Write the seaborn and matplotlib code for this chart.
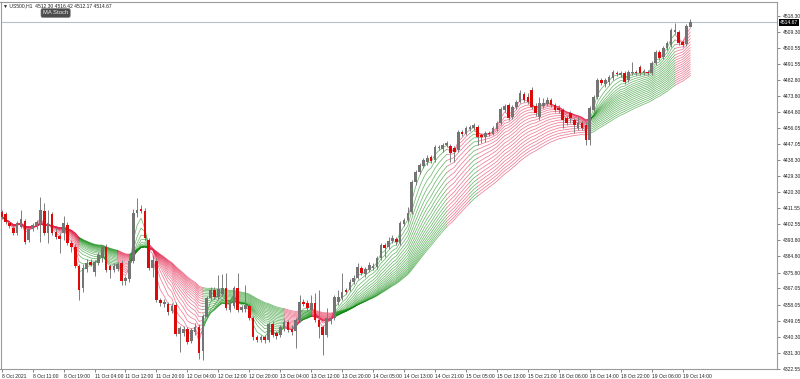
import numpy as np
import pandas as pd
import matplotlib
matplotlib.use("Agg")
import matplotlib.pyplot as plt
import seaborn as sns

# ---------------- data (US500, H1) ----------------
opens = [4409.5, 4408.3, 4403.4, 4400.6, 4397.8, 4401.1, 4404.5, 4393.9, 4400.0, 4401.7,
         4403.4, 4410.0, 4397.8, 4408.3, 4398.4, 4396.1, 4397.8, 4402.2, 4392.3, 4390.0,
         4379.5, 4367.3, 4377.8, 4381.7, 4376.2, 4381.2, 4383.9, 4390.0, 4379.5, 4377.3,
         4377.8, 4381.2, 4371.2, 4372.3, 4382.3, 4408.9, 4411.1, 4410.0, 4393.9, 4378.4,
         4382.3, 4360.7, 4358.4, 4358.4, 4354.6, 4357.9, 4341.8, 4342.4, 4344.6, 4337.9,
         4342.9, 4345.7, 4332.4, 4351.2, 4361.8, 4366.2, 4362.3, 4363.9, 4367.3, 4355.1,
         4357.3, 4367.3, 4355.1, 4355.7, 4357.3, 4350.7, 4340.1, 4338.5, 4340.1, 4338.5,
         4347.3, 4342.4, 4341.2, 4345.1, 4348.5, 4344.6, 4343.5, 4349.6, 4359.5, 4359.0,
         4355.1, 4359.0, 4349.6, 4345.7, 4341.2, 4349.0, 4350.7, 4359.5, 4361.8, 4366.2,
         4366.2, 4370.6, 4372.8, 4378.4, 4375.1, 4377.3, 4378.4, 4379.0, 4383.9, 4391.2,
         4390.0, 4393.4, 4394.5, 4392.3, 4402.8, 4405.0, 4409.4, 4426.1, 4431.6, 4435.0,
         4437.2, 4439.9, 4438.3, 4444.9, 4444.4, 4446.6, 4446.0, 4444.9, 4443.8, 4453.8,
         4452.7, 4455.5, 4456.0, 4456.6, 4452.1, 4451.0, 4453.2, 4452.7, 4455.5, 4458.8,
         4466.0, 4468.8, 4462.1, 4467.7, 4470.4, 4474.9, 4473.2, 4477.1, 4468.2, 4462.1,
         4468.2, 4469.3, 4471.6, 4468.8, 4467.1, 4466.0, 4461.6, 4464.3, 4460.5, 4456.0,
         4458.8, 4457.7, 4449.4, 4466.0, 4473.2, 4482.6, 4480.4, 4481.5, 4483.7, 4486.5,
         4485.4, 4486.5, 4482.6, 4486.5, 4487.1, 4489.8, 4486.5, 4487.1, 4486.5, 4492.1,
         4498.2, 4495.4, 4500.4, 4502.0, 4509.3, 4509.3, 4503.7, 4502.6, 4512.30]

highs = [4410.6, 4409.5, 4404.5, 4401.7, 4404.5, 4410.6, 4405.6, 4401.1, 4403.4, 4405.0,
         4417.8, 4414.4, 4410.6, 4409.5, 4400.6, 4397.8, 4407.2, 4403.9, 4393.9, 4391.7,
         4380.6, 4380.6, 4383.4, 4383.4, 4382.8, 4387.3, 4391.2, 4391.7, 4380.6, 4381.2,
         4381.7, 4382.8, 4373.9, 4385.6, 4411.1, 4417.2, 4413.3, 4411.7, 4395.0, 4385.6,
         4383.9, 4361.8, 4361.2, 4359.5, 4359.0, 4359.5, 4346.2, 4346.2, 4345.7, 4345.1,
         4347.9, 4347.3, 4352.9, 4362.9, 4367.9, 4367.9, 4374.5, 4375.1, 4375.6, 4360.1,
         4368.4, 4375.6, 4357.9, 4369.0, 4358.4, 4351.8, 4341.2, 4341.2, 4341.2, 4348.5,
         4349.0, 4343.5, 4346.8, 4350.1, 4349.6, 4346.8, 4350.7, 4363.4, 4361.2, 4360.7,
         4363.4, 4364.5, 4366.2, 4346.8, 4356.2, 4351.8, 4363.4, 4366.2, 4375.6, 4367.3,
         4372.3, 4374.5, 4381.2, 4379.5, 4378.9, 4381.7, 4381.2, 4385.1, 4392.3, 4392.3,
         4395.6, 4396.7, 4395.6, 4404.5, 4406.1, 4412.2, 4427.2, 4432.7, 4436.6, 4439.4,
         4441.1, 4441.1, 4446.6, 4446.6, 4447.7, 4448.8, 4447.2, 4446.0, 4454.9, 4454.9,
         4457.1, 4457.7, 4458.8, 4457.7, 4453.2, 4454.4, 4454.4, 4457.1, 4459.9, 4467.7,
         4469.3, 4469.9, 4468.8, 4471.6, 4477.1, 4476.0, 4475.4, 4478.8, 4469.9, 4473.2,
         4472.7, 4473.2, 4472.7, 4469.9, 4468.8, 4467.1, 4462.7, 4465.5, 4461.6, 4462.1,
         4459.9, 4459.4, 4468.2, 4474.3, 4483.7, 4483.7, 4483.7, 4485.4, 4488.2, 4487.6,
         4487.6, 4487.6, 4488.2, 4492.6, 4488.2, 4491.0, 4488.7, 4488.2, 4493.2, 4499.3,
         4499.3, 4501.5, 4504.3, 4511.5, 4514.2, 4510.4, 4504.8, 4513.7, 4516.42]

lows = [4405.6, 4402.8, 4400.6, 4396.7, 4396.7, 4400.6, 4391.7, 4392.8, 4398.9, 4400.0,
        4392.8, 4396.7, 4392.3, 4396.7, 4394.5, 4386.7, 4393.9, 4391.2, 4387.3, 4378.4,
        4360.7, 4365.1, 4376.2, 4379.5, 4373.9, 4380.1, 4381.7, 4376.2, 4372.8, 4376.2,
        4376.7, 4369.0, 4369.0, 4370.6, 4381.2, 4406.7, 4408.9, 4393.9, 4377.3, 4373.3,
        4359.5, 4357.3, 4356.8, 4352.3, 4353.4, 4340.7, 4331.8, 4340.7, 4336.3, 4336.8,
        4341.2, 4327.9, 4327.4, 4350.6, 4360.7, 4361.2, 4361.2, 4362.9, 4355.1, 4354.0,
        4356.2, 4354.0, 4354.0, 4354.0, 4349.6, 4338.5, 4337.4, 4337.4, 4336.8, 4337.4,
        4340.1, 4339.0, 4340.1, 4343.5, 4342.9, 4341.2, 4334.0, 4348.5, 4357.3, 4355.1,
        4354.0, 4348.5, 4339.6, 4330.2, 4340.1, 4347.3, 4349.6, 4357.9, 4360.7, 4364.0,
        4365.6, 4369.5, 4372.3, 4374.5, 4373.4, 4376.2, 4377.3, 4377.8, 4382.8, 4384.5,
        4388.9, 4392.3, 4391.2, 4391.2, 4401.7, 4403.9, 4408.3, 4424.4, 4430.5, 4433.8,
        4435.5, 4436.6, 4437.2, 4443.8, 4442.7, 4445.5, 4437.2, 4437.2, 4442.7, 4451.6,
        4452.1, 4454.4, 4454.9, 4446.6, 4447.7, 4448.3, 4451.6, 4452.1, 4454.4, 4457.7,
        4464.9, 4460.5, 4461.0, 4466.6, 4469.9, 4470.4, 4469.3, 4466.6, 4462.7, 4460.5,
        4467.1, 4468.2, 4467.7, 4464.9, 4464.3, 4456.0, 4457.7, 4458.8, 4453.2, 4454.9,
        4454.9, 4446.6, 4446.6, 4464.9, 4472.1, 4479.9, 4478.8, 4479.9, 4482.6, 4484.9,
        4484.3, 4480.4, 4481.5, 4485.4, 4485.4, 4485.4, 4485.4, 4485.4, 4485.4, 4491.0,
        4493.7, 4494.3, 4499.3, 4500.9, 4508.1, 4502.0, 4500.9, 4501.5, 4512.17]

closes = [4406.7, 4403.9, 4401.7, 4397.8, 4403.4, 4405.6, 4392.8, 4400.0, 4402.2, 4403.9,
          4410.6, 4397.8, 4403.4, 4397.8, 4395.6, 4394.5, 4403.4, 4392.3, 4390.0, 4379.5,
          4366.2, 4378.4, 4381.2, 4380.1, 4381.7, 4385.6, 4390.0, 4377.3, 4377.3, 4379.5,
          4380.6, 4371.2, 4372.8, 4382.3, 4408.9, 4410.6, 4410.0, 4395.0, 4378.4, 4382.8,
          4360.7, 4359.0, 4359.5, 4354.0, 4357.3, 4341.8, 4345.1, 4344.6, 4337.4, 4344.0,
          4345.7, 4331.3, 4351.8, 4361.8, 4366.2, 4362.3, 4366.8, 4367.3, 4356.2, 4359.0,
          4367.3, 4355.1, 4356.8, 4357.9, 4350.7, 4340.1, 4338.5, 4340.1, 4338.5, 4347.3,
          4341.2, 4340.7, 4345.7, 4348.5, 4344.0, 4342.9, 4349.6, 4359.5, 4358.4, 4356.2,
          4359.0, 4349.6, 4345.7, 4341.2, 4350.7, 4350.7, 4362.3, 4362.3, 4365.1, 4365.1,
          4370.6, 4372.8, 4378.9, 4375.6, 4377.8, 4380.1, 4379.5, 4383.9, 4391.2, 4389.5,
          4393.4, 4395.0, 4392.8, 4403.4, 4405.0, 4408.9, 4426.1, 4431.6, 4435.5, 4438.3,
          4439.4, 4437.7, 4445.5, 4445.5, 4446.6, 4447.7, 4442.2, 4442.7, 4453.8, 4452.7,
          4456.0, 4456.6, 4457.7, 4451.0, 4451.0, 4453.2, 4452.7, 4456.0, 4458.8, 4466.6,
          4468.2, 4461.6, 4467.7, 4470.4, 4475.4, 4471.6, 4470.4, 4467.7, 4464.3, 4469.9,
          4469.9, 4471.6, 4468.8, 4466.0, 4466.0, 4460.5, 4458.8, 4461.6, 4457.7, 4458.8,
          4456.0, 4449.4, 4467.1, 4473.2, 4482.6, 4481.0, 4482.6, 4484.3, 4487.1, 4486.0,
          4486.5, 4481.5, 4487.1, 4487.1, 4486.5, 4486.5, 4487.6, 4486.5, 4492.1, 4498.2,
          4494.8, 4500.4, 4503.2, 4510.4, 4510.4, 4503.2, 4502.0, 4512.6, 4514.67]

# MA ribbon periods and the colour state of the ribbon (bar ranges)
ma_periods = [3, 5, 7, 9, 11, 13, 15, 17, 19, 21, 23, 25, 27, 29, 31, 33, 35, 37, 39]
trend_starts = [0, 20, 30, 33, 38, 52, 73, 77, 80, 86, 115, 121, 123, 152, 174]
trend_ends = [20, 30, 33, 38, 52, 73, 77, 80, 86, 115, 121, 123, 152, 174, 178]
trend_states = ["down", "up", "down", "up", "down", "up", "down", "up", "down",
                "up", "down", "up", "down", "up", "down"]

x_tick_bars = [0, 8, 16, 24, 32, 40, 48, 56, 64, 72, 80, 88, 96, 104, 112, 120,
               128, 136, 144, 152, 160, 168, 176]
x_tick_labels = ["8 Oct 2021", "8 Oct 11:00", "8 Oct 19:00", "11 Oct 04:00", "11 Oct 12:00",
                 "11 Oct 20:00", "12 Oct 04:00", "12 Oct 12:00", "12 Oct 20:00", "13 Oct 04:00",
                 "13 Oct 12:00", "13 Oct 20:00", "14 Oct 05:00", "14 Oct 13:00", "14 Oct 21:00",
                 "15 Oct 05:00", "15 Oct 13:00", "15 Oct 21:00", "18 Oct 06:00", "18 Oct 14:00",
                 "18 Oct 22:00", "19 Oct 06:00", "19 Oct 14:00"]
y_tick_values = [4518.30, 4509.30, 4500.55, 4491.55, 4482.80, 4473.80, 4464.80, 4456.05,
                 4447.05, 4438.30, 4429.30, 4420.30, 4411.55, 4402.55, 4393.80, 4384.80,
                 4375.80, 4367.05, 4358.05, 4349.05, 4340.30, 4331.30, 4322.55]
last_price = 4514.67
header_text = "\u25bc US500,H1  4512.30 4516.42 4512.17 4514.67"
indicator_name = "MA Stoch"

# ---------------- build ----------------
sns.set_theme(style="white")
plt.rcParams["font.family"] = ["Liberation Sans", "DejaVu Sans"]

bars = np.arange(len(closes))
df = pd.DataFrame({"bar": bars, "open": opens, "high": highs, "low": lows, "close": closes})

pieces = []
for p in ma_periods:
    ema = df["close"].ewm(span=p, adjust=True).mean().values
    for r, (a, b, t) in enumerate(zip(trend_starts, trend_ends, trend_states)):
        seg = pd.DataFrame({"bar": bars[a:b + 1], "ma": ema[a:b + 1]})
        seg["trend"] = t
        seg["unit"] = f"{p}_{r}"
        pieces.append(seg)
ribbon = pd.concat(pieces, ignore_index=True)

fig = plt.figure(figsize=(8, 3.79), dpi=100)
ax = fig.add_axes([0.000625, 0.0264, 0.970625, 0.9683])
ax.set_facecolor("white")

sns.lineplot(data=ribbon, x="bar", y="ma", hue="trend", units="unit", estimator=None,
             palette={"up": "#0f8a0f", "down": "#e2264e"}, linewidth=0.55, alpha=0.6,
             legend=False, ax=ax, zorder=1)

ax.axhline(last_price, color="#b7c0c8", lw=0.8, zorder=0.5)

up = df["close"] >= df["open"]
body_bot = df[["open", "close"]].min(axis=1)
body_h = (df["close"] - df["open"]).abs().clip(lower=0.45)
ax.vlines(df["bar"], df["low"], df["high"], color="#7d7d7d", lw=0.7, zorder=2)
ax.bar(df["bar"][up], body_h[up], bottom=body_bot[up], width=0.68, color="#747474",
       linewidth=0, zorder=3)
ax.bar(df["bar"][~up], body_h[~up], bottom=body_bot[~up], width=0.68, color="#dd0a0a",
       linewidth=0, zorder=3)

ax.set_xlim(-0.31, 200.4)
ax.set_ylim(4322.4, 4525.9)
ax.set_xlabel("")
ax.set_ylabel("")

ax.yaxis.tick_right()
ax.set_yticks(y_tick_values)
ax.set_yticklabels([f"{v:.2f}" for v in y_tick_values])
ax.set_xticks(x_tick_bars)
ax.set_xticklabels(x_tick_labels, ha="left")
ax.tick_params(axis="y", which="both", right=True, left=False, length=2.5, width=0.5,
               color="#555555", labelsize=3.6, labelcolor="#222222", pad=1.5)
ax.tick_params(axis="x", which="both", bottom=True, length=2.5, width=0.5,
               color="#555555", labelsize=3.6, labelcolor="#222222", pad=1.0)
for s in ax.spines.values():
    s.set_color("#9a9a9a")
    s.set_linewidth(0.8)

ax.text(1.0035, last_price, f"{last_price:.2f}", transform=ax.get_yaxis_transform(),
        ha="left", va="center", fontsize=3.6, color="white", zorder=10,
        bbox=dict(boxstyle="square,pad=0.18", fc="black", ec="none"), clip_on=False)

fig.text(3 / 800, 1 - 5.5 / 379, header_text, fontsize=3.6, color="#222222",
         ha="left", va="center")
fig.text(43 / 800, 1 - 13 / 379, indicator_name, fontsize=4.2, color="#eeeeee",
         ha="left", va="center",
         bbox=dict(boxstyle="round,pad=0.35,rounding_size=0.3", fc="#4c4c4c", ec="#888888", lw=0.4))

fig.savefig("out.png", dpi=100)
